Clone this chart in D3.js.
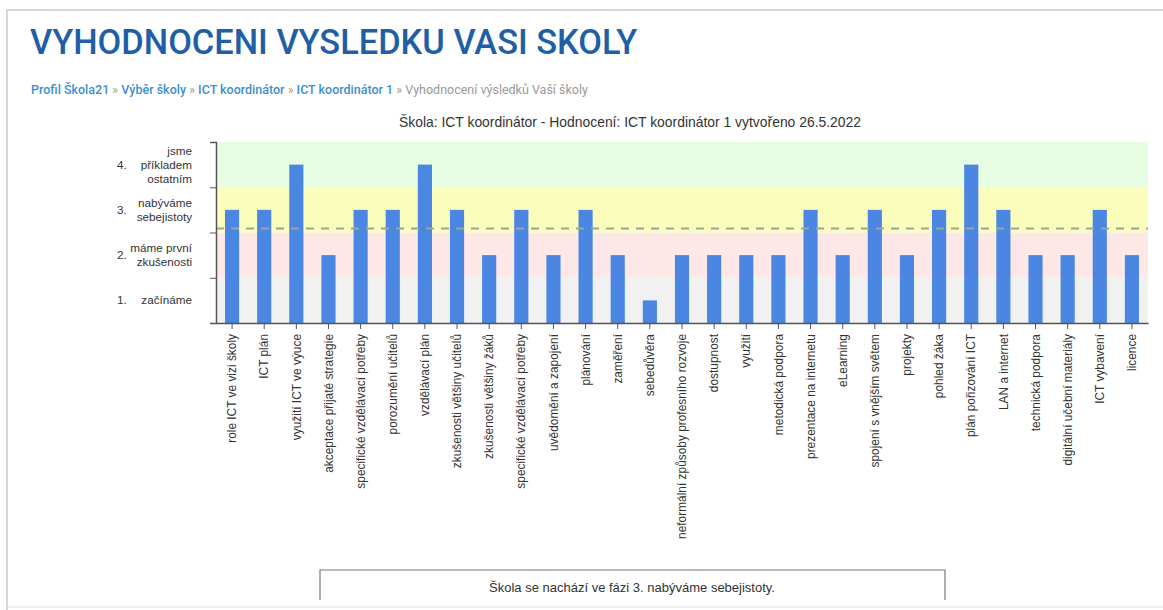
<!DOCTYPE html>
<html>
<head>
<meta charset="utf-8">
<script src="https://cdn.jsdelivr.net/npm/d3@7"></script>
<style>
  body { margin: 0; background: #fff; }
  svg { display: block; }
</style>
</head>
<body>
<div id="chart"></div>
<script>
// data
let categories = [
  "role ICT ve vizi školy", "ICT plán", "využití ICT ve výuce", "akceptace přijaté strategie",
  "specifické vzdělávací potřeby", "porozumění učitelů", "vzdělávací plán", "zkušenosti většiny učitelů",
  "zkušenosti většiny žáků", "specifické vzdělávací potřeby", "uvědomění a zapojení", "plánování",
  "zaměření", "sebedůvěra", "neformální způsoby profesního rozvoje", "dostupnost", "využití",
  "metodická podpora", "prezentace na internetu", "eLearning", "spojení s vnějším světem",
  "projekty", "pohled žáka", "plán pořizování ICT", "LAN a internet", "technická podpora",
  "digitální učební materiály", "ICT vybavení", "licence"
];
let values = [
  2.5, 2.5, 3.5, 1.5,
  2.5, 2.5, 3.5, 2.5,
  1.5, 2.5, 1.5, 2.5,
  1.5, 0.5, 1.5, 1.5, 1.5,
  1.5, 2.5, 1.5, 2.5,
  1.5, 2.5, 3.5, 2.5, 1.5,
  1.5, 2.5, 1.5
];
let levelNums = ["1.", "2.", "3.", "4."];
let levelNames = [["začínáme"], ["máme první", "zkušenosti"], ["nabýváme", "sebejistoty"], ["jsme", "příkladem", "ostatním"]];
let levelColors = ["#f1f1f1", "#fde7e7", "#fafdbb", "#e7fde1"];
let crumbs = ["Profil Škola21", "Výběr školy", "ICT koordinátor", "ICT koordinátor 1"];
let crumbLast = "Vyhodnocení výsledků Vaší školy";
let pageTitle = "VYHODNOCENI VYSLEDKU VASI SKOLY";
let chartTitle = "Škola: ICT koordinátor - Hodnocení: ICT koordinátor 1 vytvořeno 26.5.2022";
let phaseText = "Škola se nachází ve fázi 3. nabýváme sebejistoty.";

let W = 1163, H = 610;
let svg = d3.select("#chart").append("svg").attr("width", W).attr("height", H);

// page card edges
svg.append("path").attr("d", "M7,610 V10 H1163").attr("fill", "none").attr("stroke", "#d6d6d6").attr("stroke-width", 2);
svg.append("line").attr("x1", 7).attr("x2", W).attr("y1", 607).attr("y2", 607).attr("stroke", "#e0e0e0");

// heading
svg.append("text").attr("x", 30).attr("y", 54)
  .attr("font-family", "Roboto").attr("font-weight", 500).attr("font-size", 34.4).attr("fill", "#1f5fa6")
  .text(pageTitle);

// breadcrumb
let bc = svg.append("text").attr("x", 31).attr("y", 94)
  .attr("font-family", "Roboto").attr("font-size", 12.5);
crumbs.forEach(c => {
  bc.append("tspan").attr("fill", "#3b8fd3").attr("font-weight", 500).text(c);
  bc.append("tspan").attr("fill", "#999").text(" » ");
});
bc.append("tspan").attr("fill", "#999").text(crumbLast);

// chart
let margin = { left: 216, right: 1148, top: 142, bottom: 323 };
let x = d3.scaleBand().domain(d3.range(categories.length))
  .range([margin.left, margin.right]).paddingInner(0.56).paddingOuter(0.28);
let y = d3.scaleLinear().domain([0, 4]).range([margin.bottom, margin.top]);

svg.append("text").attr("x", 630).attr("y", 127).attr("text-anchor", "middle")
  .attr("font-family", "Liberation Sans").attr("font-size", 13.9).attr("fill", "#333")
  .text(chartTitle);

// level bands
svg.append("g").selectAll("rect").data(levelColors).join("rect")
  .attr("x", margin.left).attr("width", margin.right - margin.left)
  .attr("y", (d, i) => y(i + 1)).attr("height", (d, i) => y(i) - y(i + 1))
  .attr("fill", d => d);

// bars
svg.append("g").selectAll("rect").data(values).join("rect")
  .attr("x", (d, i) => x(i)).attr("width", x.bandwidth())
  .attr("y", d => y(d)).attr("height", d => y(0) - y(d))
  .attr("fill", "#4a86e2");

// average line
let avg = d3.mean(values);
svg.append("line").attr("x1", margin.left).attr("x2", margin.right)
  .attr("y1", y(avg)).attr("y2", y(avg))
  .attr("stroke", "#9aa79a").attr("stroke-width", 2).attr("stroke-dasharray", "8,7");

// axes
let yAxis = svg.append("g").attr("transform", `translate(${margin.left},0)`)
  .call(d3.axisLeft(y).ticks(4).tickSize(6).tickFormat(""));
let xAxis = svg.append("g").attr("transform", `translate(0,${margin.bottom})`)
  .call(d3.axisBottom(x).tickSize(6).tickSizeOuter(0).tickFormat(i => categories[i]));
[yAxis, xAxis].forEach(a => {
  a.select(".domain").attr("stroke", "#555").attr("stroke-width", 1.5);
  a.selectAll(".tick line").attr("stroke", "#555");
});
xAxis.selectAll("text")
  .attr("font-family", "Liberation Sans").attr("font-size", 11.9).attr("fill", "#333")
  .attr("text-anchor", "end").attr("transform", "rotate(-90)")
  .attr("x", -11).attr("y", 0).attr("dy", "0.35em");

// level labels
let lv = svg.append("g").attr("font-family", "Liberation Sans").attr("font-size", 11.7).attr("fill", "#333");
levelNums.forEach((n, i) => {
  let cy = y(i + 0.5);
  lv.append("text").attr("x", 117).attr("y", cy).attr("dy", "0.35em").text(n);
  let lines = levelNames[i];
  lines.forEach((t, j) => {
    lv.append("text").attr("x", 192).attr("y", cy + (j - (lines.length - 1) / 2) * 14)
      .attr("dy", "0.35em").attr("text-anchor", "end").text(t);
  });
});

// phase box
svg.append("path").attr("d", "M320,600 V570 H945 V600").attr("fill", "none").attr("stroke", "#777").attr("stroke-width", 1.2);
svg.append("text").attr("x", 632).attr("y", 592).attr("text-anchor", "middle")
  .attr("font-family", "Liberation Sans").attr("font-size", 13).attr("fill", "#333")
  .text(phaseText);
</script>
</body>
</html>
